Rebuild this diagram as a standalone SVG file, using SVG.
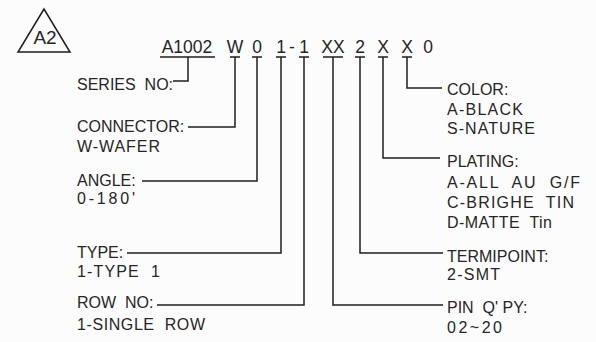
<svg xmlns="http://www.w3.org/2000/svg" width="596" height="342" viewBox="0 0 596 342">
<style>
text{font-family:"Liberation Sans",Arial,sans-serif;font-size:16px;fill:#262626;white-space:pre}
.code{font-size:17.5px;text-anchor:middle}
.ln{fill:none;stroke:#1e1e1e;stroke-width:1.5}
</style>
<rect width="596" height="342" fill="#fcfcfc"/>
<g id="badge">
<polygon points="44,9 18,52 70,52" class="ln" stroke-width="1.2"/>
<text x="45" y="44" text-anchor="middle" style="font-size:19px">A2</text>
</g>
<g id="code">
<text class="code" x="187" y="53">A1002</text>
<text class="code" x="235" y="53">W</text>
<text class="code" x="257" y="53">0</text>
<text class="code" x="281 292 304" y="53">1-1</text>
<text class="code" x="333" y="53">XX</text>
<text class="code" x="360" y="53">2</text>
<text class="code" x="383" y="53">X</text>
<text class="code" x="407" y="53">X</text>
<text class="code" x="428" y="53">0</text>
</g>
<g id="connectors">
<path class="ln" d="M160 57H215M188 57V81H173"/>
<path class="ln" d="M230 57H240M235 57V127H188"/>
<path class="ln" d="M252 57H262M257 57V181H142"/>
<path class="ln" d="M276 57H286M281 57V253H127"/>
<path class="ln" d="M299 57H309M304 57V305H157"/>
<path class="ln" d="M323 57H343M333 57V305H443"/>
<path class="ln" d="M355 57H365M360 57V253H443"/>
<path class="ln" d="M378 57H388M383 57V158H440"/>
<path class="ln" d="M402 57H412M407 57V88H442"/>
</g>
<g id="series"><text x="77" y="90">SERIES  NO:</text></g>
<g id="connector"><text x="77" y="132">CONNECTOR:</text><text x="77" y="152" textLength="83" lengthAdjust="spacing">W-WAFER</text></g>
<g id="angle"><text x="77" y="186">ANGLE:</text><text x="77" y="204" textLength="58" lengthAdjust="spacing">0-180'</text></g>
<g id="type"><text x="77" y="258">TYPE:</text><text x="77" y="277" textLength="83" lengthAdjust="spacing">1-TYPE  1</text></g>
<g id="row"><text x="77" y="308">ROW  NO:</text><text x="77" y="330" textLength="128" lengthAdjust="spacing">1-SINGLE  ROW</text></g>
<g id="color"><text x="447" y="95">COLOR:</text><text x="447" y="115" textLength="76" lengthAdjust="spacing">A-BLACK</text><text x="447" y="134" textLength="88" lengthAdjust="spacing">S-NATURE</text></g>
<g id="plating"><text x="447" y="167">PLATING:</text><text x="447" y="188" textLength="133" lengthAdjust="spacing">A-ALL  AU  G/F</text><text x="447" y="208" textLength="127" lengthAdjust="spacing">C-BRIGHE  TIN</text><text x="447" y="228" textLength="105" lengthAdjust="spacing">D-MATTE  Tin</text></g>
<g id="termipoint"><text x="447" y="262">TERMIPOINT:</text><text x="447" y="280" textLength="53" lengthAdjust="spacing">2-SMT</text></g>
<g id="pin"><text x="447" y="313">PIN  Q' PY:</text><text x="447" y="333" textLength="55" lengthAdjust="spacing">02~20</text></g>
</svg>
